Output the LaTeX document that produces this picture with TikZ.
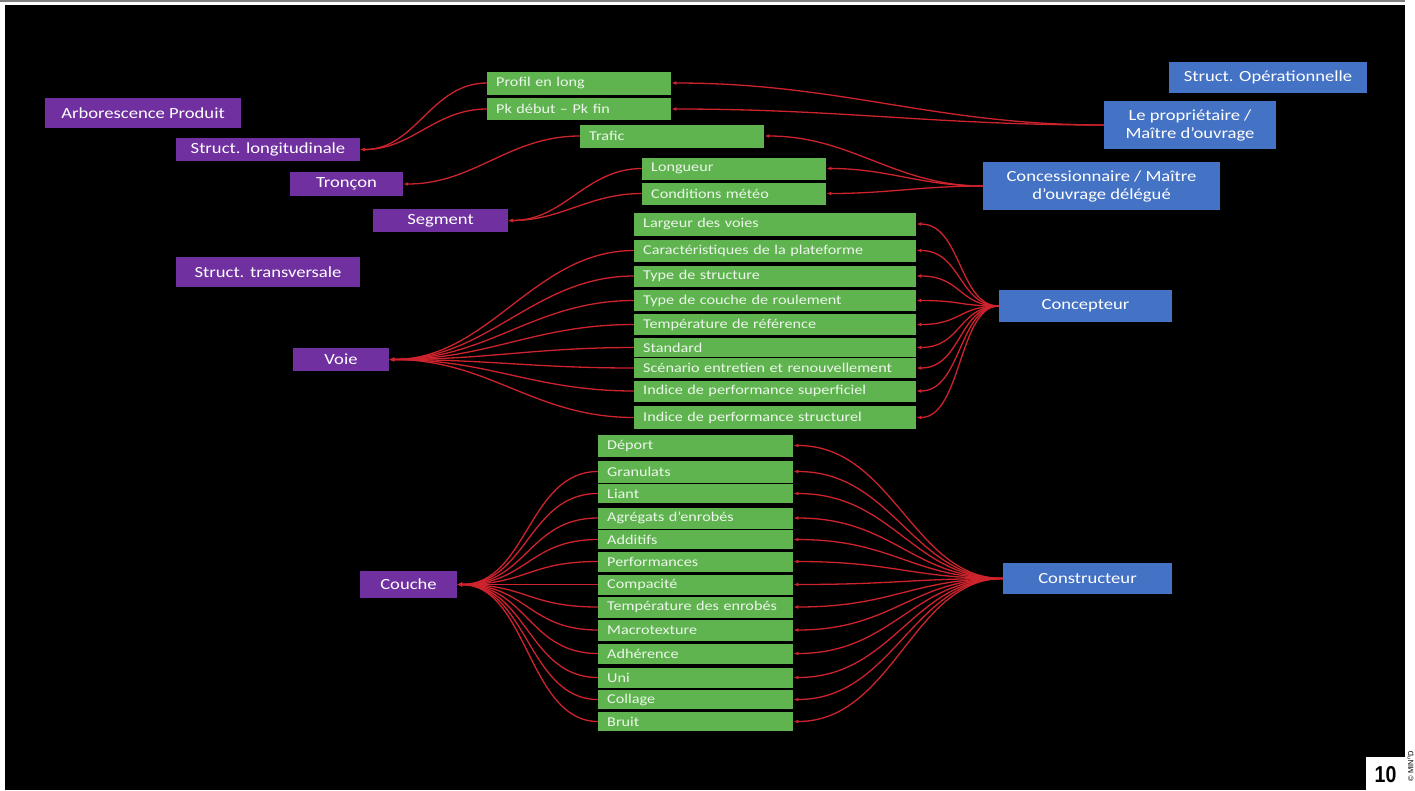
\documentclass[tikz,border=0pt]{standalone}
\usepackage{fontspec}
\setmainfont{Carlito}[FakeStretch=1.2]
\newfontfamily\pagefont{Liberation Sans}
\usetikzlibrary{arrows.meta}

\definecolor{structpurple}{HTML}{7030A0}
\definecolor{actorblue}{HTML}{4472C4}
\definecolor{itemgreen}{RGB}{95,180,80}
\definecolor{linkred}{RGB}{205,35,45}

\begin{document}
\begin{tikzpicture}[
			x=1pt, y=-1pt,
			>={Latex[length=5pt,width=4pt]},
			link/.style={draw=linkred, line width=1.3pt, ->},
			struct/.style={fill=structpurple, text=white, font=\fontsize{15.5}{17}\selectfont, inner sep=0pt, align=center},
			actor/.style={fill=actorblue, text=white, font=\fontsize{15.5}{18}\selectfont, inner sep=0pt, align=center},
			item/.style={fill=itemgreen, text=white!88!itemgreen, font=\fontsize{13.5}{14}\selectfont, inner xsep=9pt, inner ysep=0pt, minimum height=22pt, align=left, anchor=west}
		]
		% page and slide
		\useasboundingbox (0,0) rectangle (1415,790);
		\fill[white] (0,0) rectangle (1415,790);
		\draw[gray, line width=2pt] (0,1) -- (1405,1);
		\fill[black] (5,5) rectangle (1405,790);

		% structure (purple)
		\node[struct, minimum width=196pt, minimum height=30pt] (arbo) at (143,113) {Arborescence Produit};
		\node[struct, minimum width=184pt, minimum height=23pt] (slong) at (268,149.5) {Struct. longitudinale};
		\node[struct, minimum width=113pt, minimum height=24pt] (tronc) at (346.5,184) {Tronçon};
		\node[struct, minimum width=135pt, minimum height=23pt] (segm) at (440.5,220.5) {Segment};
		\node[struct, minimum width=184pt, minimum height=30pt] (strans) at (268,272) {Struct. transversale};
		\node[struct, minimum width=96pt, minimum height=23pt] (voie) at (341,359.5) {Voie};
		\node[struct, minimum width=97pt, minimum height=27pt] (couche) at (408.5,584.5) {Couche};

		% actors (blue)
		\node[actor, minimum width=198pt, minimum height=31pt] (sop) at (1268,77.5) {Struct. Opérationnelle};
		\node[actor, minimum width=172pt, minimum height=48pt] (prop) at (1190,125) {Le propriétaire /\\Maître d'ouvrage};
		\node[actor, minimum width=237pt, minimum height=48pt] (conc) at (1101.5,186) {Concessionnaire  / Maître\\d'ouvrage délégué};
		\node[actor, minimum width=173pt, minimum height=32pt] (concep) at (1085.5,306) {Concepteur};
		\node[actor, minimum width=169pt, minimum height=31pt] (constr) at (1087.5,578.5) {Constructeur};

		% attributes (green)
		\node[item, text width=166pt, minimum height=23pt] (prof) at (487,83) {Profil en long};
		\node[item, text width=166pt, minimum height=22pt] (pk) at (487,109) {Pk début – Pk fin};
		\node[item, text width=166pt, minimum height=23pt] (trafic) at (580,136) {Trafic};
		\node[item, text width=166pt, minimum height=22pt] (longueur) at (642,168.5) {Longueur};
		\node[item, text width=166pt, minimum height=22pt] (meteo) at (642,193.5) {Conditions météo};
		\foreach \i/\y/\h/\t in {1/224/23/Largeur des voies, 2/250.5/22/Caractéristiques de la plateforme,
				3/276/21/Type de structure, 4/300.5/21.5/Type de couche de roulement,
				5/324.5/21.5/Température de référence, 6/347.5/18.5/Standard,
				7/368/19.5/Scénario entretien et renouvellement, 8/391/21/Indice de performance superficiel,
				9/417.5/23/Indice de performance structurel}
			\node[item, text width=264pt, minimum height=\h pt] (v\i) at (634,\y) {\t};
		\foreach \i/\y/\h/\t in {1/445.5/22/Déport, 2/471.5/22/Granulats, 3/493.5/18.5/Liant,
				4/518/21/Agrégats d'enrobés, 5/539.5/18.5/Additifs, 6/561.5/20/Performances,
				7/584.5/20/Compacité, 8/607/21/Température des enrobés, 9/630/21/Macrotexture,
				10/653.5/20/Adhérence, 11/677.5/20/Uni, 12/699.5/18.5/Collage, 13/721.5/19/Bruit}
			\node[item, text width=177pt, minimum height=\h pt] (c\i) at (598,\y) {\t};

		% links
		\draw[link] (prof.west) to[out=180,in=0] (slong.east);
		\draw[link] (pk.west) to[out=180,in=0] (slong.east);
		\draw[link] (trafic.west) to[out=180,in=0] (tronc.east);
		\draw[link] (longueur.west) to[out=180,in=0] (segm.east);
		\draw[link] (meteo.west) to[out=180,in=0] (segm.east);
		\draw[link] (prop.west) to[out=180,in=0] (prof.east);
		\draw[link] (prop.west) to[out=180,in=0] (pk.east);
		\draw[link] (conc.west) to[out=180,in=0] (trafic.east);
		\draw[link] (conc.west) to[out=180,in=0] (longueur.east);
		\draw[link] (conc.west) to[out=180,in=0] (meteo.east);
		\foreach \i in {2,...,9}
			\draw[link] (v\i.west) .. controls +(-100,0) and +(100,0) .. (voie.east);
		\foreach \i in {1,...,9}
			\draw[link] (concep.west) .. controls +(-40,0) and +(45,0) .. (v\i.east);
		\foreach \i in {2,...,13}
			\draw[link] (c\i.west) .. controls +(-70,0) and +(70,0) .. (couche.east);
		\foreach \i in {1,...,13}
			\draw[link] (constr.west) .. controls +(-90,0) and +(100,0) .. (c\i.east);

		% page number
		\fill[white] (1366,757) rectangle (1405,790);
		\node[font=\pagefont\bfseries\fontsize{23}{23}\selectfont, xscale=0.85, inner sep=0pt] (pageno) at (1385.5,774.5) {10};
		\node[font=\pagefont\fontsize{7.5}{7.5}\selectfont, rotate=90, inner sep=0pt] (copy) at (1410.5,766) {© MIN\textsuperscript{n}D};
	\end{tikzpicture}
\end{document}
